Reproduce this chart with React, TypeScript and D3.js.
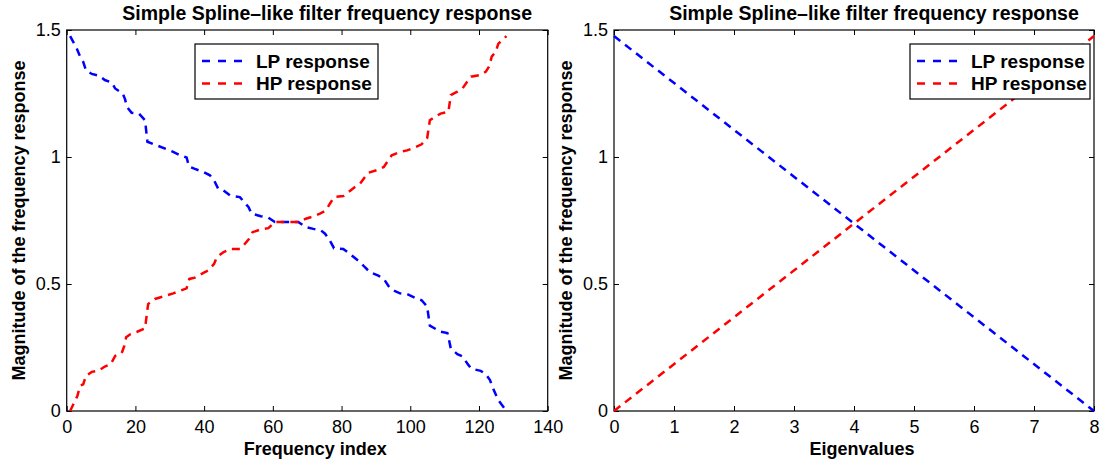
import React, { useEffect, useRef } from 'react';
import * as d3 from 'd3';

// frequency index vs response
const lpIndex = [1, 2.9, 3.9, 4.8, 5.6, 7.3, 9.5, 11.1, 13.1, 14.1, 16.3, 17.0, 17.5, 18.9, 21.0, 22.8, 23.5, 26.2, 31.0, 33.0, 34.9, 35.6, 37.3, 39.8, 41.7, 42.9, 44.1, 45.6, 47.5, 50.4, 51.6, 52.9, 53.8, 56.5, 58.7, 60.6, 67.4, 69.6, 71.8, 74.0, 75.2, 76.6, 77.8, 80.5, 82.0, 83.9, 85.4, 86.8, 88.3, 90.7, 92.3, 93.6, 94.6, 97.0, 99.1, 101.7, 103.3, 104.9, 105.7, 108.8, 110.8, 111.4, 111.8, 113.7, 115.2, 116.6, 117.7, 120.5, 122.0, 123.2, 124.0, 125.6, 128];
const lpValues = [1.476, 1.428, 1.395, 1.375, 1.342, 1.327, 1.32, 1.303, 1.293, 1.27, 1.25, 1.227, 1.198, 1.174, 1.171, 1.145, 1.06, 1.046, 1.02, 1.007, 0.998, 0.963, 0.953, 0.941, 0.928, 0.908, 0.875, 0.869, 0.849, 0.842, 0.823, 0.803, 0.777, 0.767, 0.761, 0.744, 0.744, 0.724, 0.717, 0.711, 0.698, 0.671, 0.641, 0.638, 0.623, 0.602, 0.586, 0.566, 0.546, 0.533, 0.52, 0.493, 0.478, 0.463, 0.46, 0.444, 0.436, 0.412, 0.336, 0.312, 0.307, 0.272, 0.246, 0.224, 0.215, 0.187, 0.167, 0.158, 0.145, 0.122, 0.092, 0.043, 0];
const hpIndex = [1, 3.1, 3.9, 4.8, 5.6, 7.3, 9.2, 11.1, 12.8, 14.1, 16.0, 16.8, 17.3, 18.6, 20.5, 22.8, 23.7, 25.7, 28.9, 31.0, 33.2, 34.9, 35.7, 37.3, 39.8, 41.2, 42.9, 43.7, 45.6, 47.5, 50.4, 51.6, 53.1, 54.1, 56.5, 58.7, 60.6, 67.4, 69.6, 71.3, 73.7, 75.5, 76.6, 77.8, 80.5, 82.0, 83.9, 85.4, 86.8, 87.8, 90.2, 92.3, 93.6, 94.6, 97.0, 99.1, 101.7, 103.3, 104.9, 105.7, 108.8, 111.1, 111.8, 113.7, 115.2, 116.6, 117.7, 120.5, 122.0, 123.0, 123.7, 124.9, 125.6, 128];
const hpValues = [0, 0.059, 0.099, 0.105, 0.138, 0.154, 0.158, 0.175, 0.184, 0.217, 0.228, 0.257, 0.29, 0.303, 0.312, 0.325, 0.421, 0.441, 0.454, 0.463, 0.474, 0.483, 0.52, 0.525, 0.544, 0.553, 0.579, 0.606, 0.625, 0.638, 0.638, 0.654, 0.678, 0.704, 0.715, 0.72, 0.744, 0.744, 0.757, 0.764, 0.777, 0.79, 0.816, 0.842, 0.846, 0.862, 0.882, 0.895, 0.921, 0.938, 0.948, 0.961, 0.987, 1.007, 1.02, 1.026, 1.04, 1.05, 1.073, 1.145, 1.171, 1.178, 1.244, 1.257, 1.27, 1.297, 1.316, 1.323, 1.336, 1.358, 1.395, 1.415, 1.445, 1.476];

// eigenvalue vs response (right panel)
const eigenvalues = [0, 8];
const eigLp = [1.476, 0];
const eigHp = [0, 1.476];

const freqTicks = [0, 20, 40, 60, 80, 100, 120, 140];
const eigTicks = [0, 1, 2, 3, 4, 5, 6, 7, 8];
const magTicks = [0, 0.5, 1, 1.5];

const title = 'Simple Spline\u2013like filter frequency response';
const yLabel = 'Magnitude of the frequency response';
const seriesNames = ['LP response', 'HP response'];
const colors = ['#0000ff', '#ff0000'];

const font = '"Liberation Sans", Arial, Helvetica, sans-serif';
const top = 30, bottom = 411;

function drawPanel(svg, opt) {
  const x = d3.scaleLinear().domain(opt.xDomain).range([opt.left, opt.right]);
  const y = d3.scaleLinear().domain([0, 1.5]).range([bottom, top]);
  const g = svg.append('g');

  // axes with inward ticks on all four sides
  g.append('g')
    .attr('transform', 'translate(0,' + bottom + ')')
    .call(d3.axisBottom(x).tickValues(opt.xTicks).tickSizeInner(-5).tickSizeOuter(0).tickPadding(9).tickFormat(d => String(d)))
    .call(a => a.select('.domain').remove());
  g.append('g')
    .attr('transform', 'translate(0,' + top + ')')
    .call(d3.axisTop(x).tickValues(opt.xTicks).tickSizeInner(-5).tickSizeOuter(0).tickFormat(() => ''))
    .call(a => a.select('.domain').remove());
  g.append('g')
    .attr('transform', 'translate(' + opt.left + ',0)')
    .call(d3.axisLeft(y).tickValues(magTicks).tickSizeInner(-5).tickSizeOuter(0).tickPadding(6).tickFormat(d => String(d)))
    .call(a => a.select('.domain').remove());
  g.append('g')
    .attr('transform', 'translate(' + opt.right + ',0)')
    .call(d3.axisRight(y).tickValues(magTicks).tickSizeInner(-5).tickSizeOuter(0).tickFormat(() => ''))
    .call(a => a.select('.domain').remove());
  g.selectAll('.tick line').attr('stroke', '#000');
  g.selectAll('.tick text')
    .attr('fill', '#000')
    .style('font-family', font)
    .style('font-size', '18px');

  g.append('rect')
    .attr('x', opt.left)
    .attr('y', top)
    .attr('width', opt.right - opt.left)
    .attr('height', bottom - top)
    .attr('fill', 'none')
    .attr('stroke', '#000')
    .attr('stroke-width', 1.2);

  // curves
  const line = d3.line().x(d => x(d[0])).y(d => y(d[1]));
  opt.series.forEach((s, k) => {
    g.append('path')
      .datum(s.xs.map((v, i) => [v, s.ys[i]]))
      .attr('d', line)
      .attr('fill', 'none')
      .attr('stroke', colors[k])
      .attr('stroke-width', 2.5)
      .attr('stroke-dasharray', '8,6');
  });

  const mid = (opt.left + opt.right) / 2;
  g.append('text')
    .attr('x', mid + 20)
    .attr('y', 19.5)
    .attr('text-anchor', 'middle')
    .style('font-family', font)
    .style('font-size', '19.5px')
    .style('font-weight', 'bold')
    .text(title);
  g.append('text')
    .attr('x', mid + 8)
    .attr('y', 455)
    .attr('text-anchor', 'middle')
    .style('font-family', font)
    .style('font-size', '18px')
    .style('font-weight', 'bold')
    .text(opt.xLabel);
  g.append('text')
    .attr('transform', 'translate(' + (opt.left - 42) + ',' + (top + bottom) / 2 + ') rotate(-90)')
    .attr('text-anchor', 'middle')
    .style('font-family', font)
    .style('font-size', '18px')
    .style('font-weight', 'bold')
    .text(yLabel);

  // legend
  const lg = g.append('g').attr('transform', 'translate(' + opt.legendX + ',' + (top + 14) + ')');
  lg.append('rect')
    .attr('width', opt.legendW)
    .attr('height', 55)
    .attr('fill', '#fff')
    .attr('stroke', '#000')
    .attr('stroke-width', 1.2);
  seriesNames.forEach((name, k) => {
    const ly = 17 + k * 22.5;
    lg.append('line')
      .attr('x1', 7)
      .attr('x2', 49)
      .attr('y1', ly)
      .attr('y2', ly)
      .attr('stroke', colors[k])
      .attr('stroke-width', 2.5)
      .attr('stroke-dasharray', '8,8');
    lg.append('text')
      .attr('x', 61)
      .attr('y', ly + 6.5)
      .style('font-family', font)
      .style('font-size', '19px')
      .style('font-weight', 'bold')
      .text(name);
  });
}

function App() {
  const svgRef = useRef(null);
  useEffect(() => {
    const svg = d3.select(svgRef.current);
    svg.selectAll('*').remove();
    drawPanel(svg, {
      left: 66.7,
      right: 547.7,
      xDomain: [0, 140],
      xTicks: freqTicks,
      xLabel: 'Frequency index',
      legendX: 195,
      legendW: 183,
      series: [
        { xs: lpIndex, ys: lpValues },
        { xs: hpIndex, ys: hpValues },
      ],
    });
    drawPanel(svg, {
      left: 614,
      right: 1094,
      xDomain: [0, 8],
      xTicks: eigTicks,
      xLabel: 'Eigenvalues',
      legendX: 910,
      legendW: 180,
      series: [
        { xs: eigenvalues, ys: eigLp },
        { xs: eigenvalues, ys: eigHp },
      ],
    });
  }, []);
  return (
    <svg
      ref={svgRef}
      width={1104}
      height={464}
      style={{ position: 'absolute', left: 0, top: 0, background: '#fff' }}
    />
  );
}

export default App;
